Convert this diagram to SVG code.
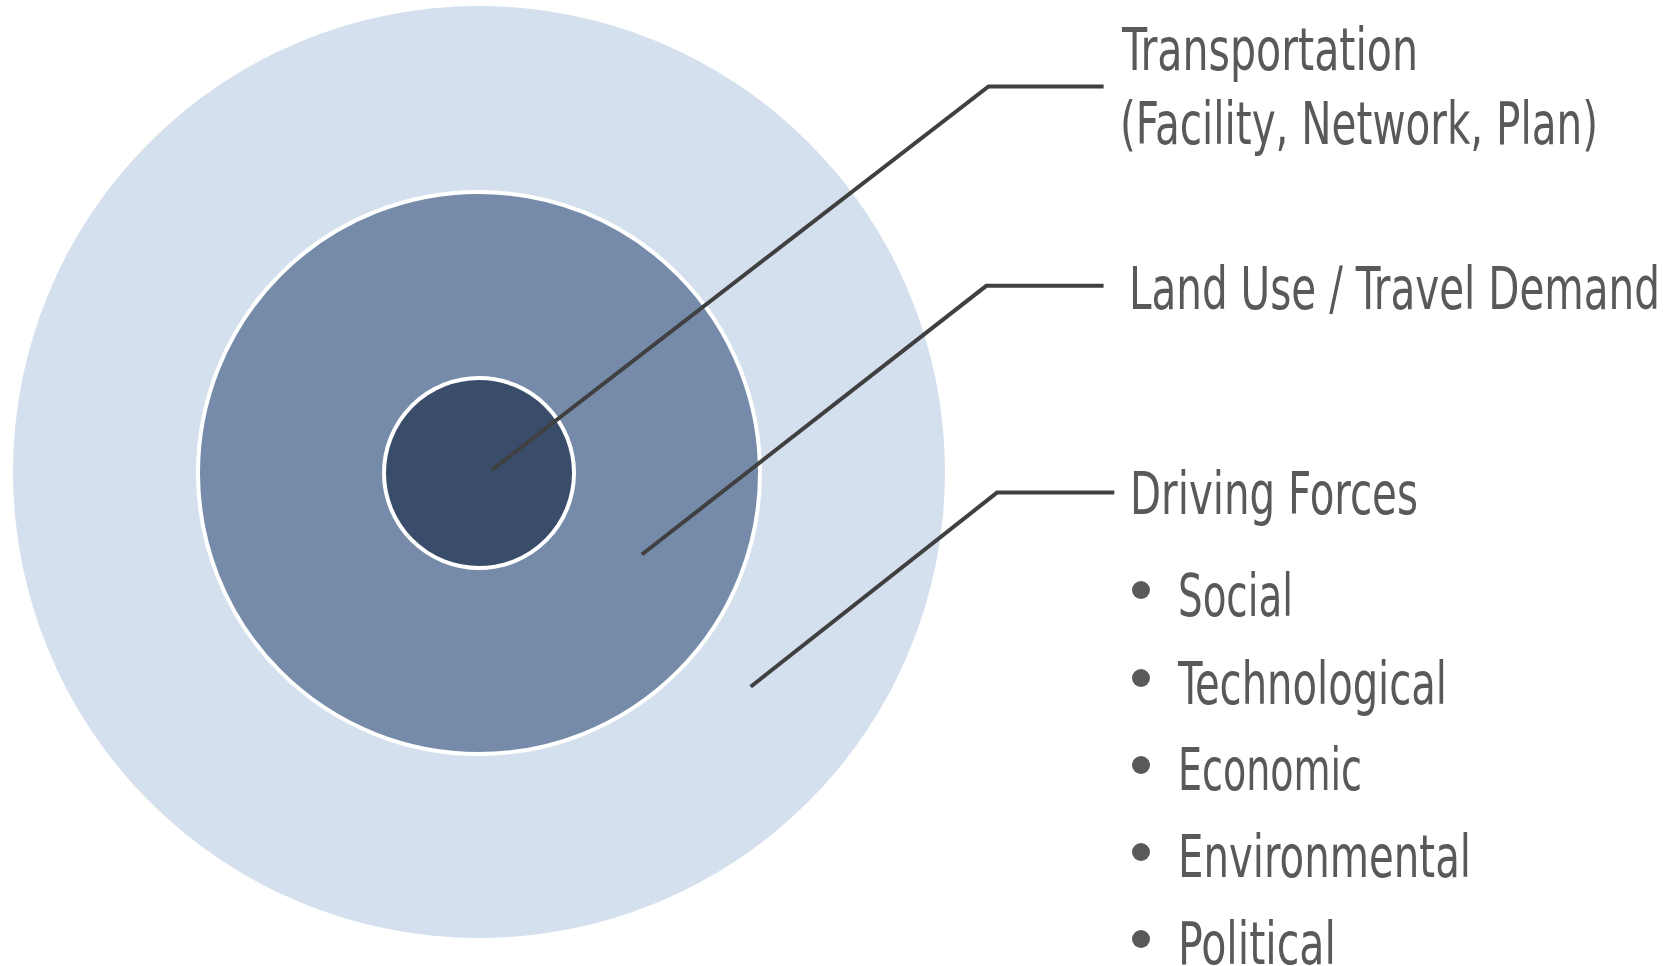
<svg xmlns="http://www.w3.org/2000/svg" width="1672" height="966" viewBox="0 0 1672 966">
<style>
.lbl{font-family:"DejaVu Sans Condensed","Liberation Sans Narrow","Liberation Sans",sans-serif;font-size:58px;fill:#595959}
.con{fill:none;stroke:#404040;stroke-width:4;stroke-linejoin:miter}
.dot{fill:#595959}
</style>
<rect width="1672" height="966" fill="#ffffff"/>
<g id="ring-outer"><circle cx="479" cy="472" r="466" fill="#d5e0ee"/></g>
<g id="ring-middle"><circle cx="479" cy="473" r="281" fill="#768ba9" stroke="#ffffff" stroke-width="4"/></g>
<g id="ring-inner"><circle cx="479" cy="473" r="95" fill="#394d6b" stroke="#ffffff" stroke-width="4"/></g>
<g id="connectors">
<polyline class="con" points="491.6,470.2 988.5,86.4 1103.6,86.4"/>
<polyline class="con" points="641.9,554.5 986.3,285.8 1103.6,285.8"/>
<polyline class="con" points="750.7,686.7 997,492.6 1114.3,492.6"/>
</g>
<g id="label-transportation">
<text class="lbl" transform="translate(1122,70) scale(0.7,1)" textLength="422.9" lengthAdjust="spacingAndGlyphs">Transportation</text>
<text class="lbl" transform="translate(1120,144) scale(0.7,1)" textLength="682.9" lengthAdjust="spacingAndGlyphs">(Facility, Network, Plan)</text>
</g>
<g id="label-landuse">
<text class="lbl" transform="translate(1129,309) scale(0.7,1)" textLength="758.6" lengthAdjust="spacingAndGlyphs">Land Use / Travel Demand</text>
</g>
<g id="label-driving">
<text class="lbl" transform="translate(1130,514) scale(0.7,1)" textLength="411.4" lengthAdjust="spacingAndGlyphs">Driving Forces</text>
<circle class="dot" cx="1141" cy="590" r="9"/>
<text class="lbl" transform="translate(1178,616) scale(0.7,1)" textLength="164.3" lengthAdjust="spacingAndGlyphs">Social</text>
<circle class="dot" cx="1141" cy="678" r="9"/>
<text class="lbl" transform="translate(1178,704) scale(0.7,1)" textLength="384.3" lengthAdjust="spacingAndGlyphs">Technological</text>
<circle class="dot" cx="1141" cy="765" r="9"/>
<text class="lbl" transform="translate(1178,790) scale(0.7,1)" textLength="262.9" lengthAdjust="spacingAndGlyphs">Economic</text>
<circle class="dot" cx="1141" cy="852" r="9"/>
<text class="lbl" transform="translate(1178,877) scale(0.7,1)" textLength="418.6" lengthAdjust="spacingAndGlyphs">Environmental</text>
<circle class="dot" cx="1141" cy="939" r="9"/>
<text class="lbl" transform="translate(1178,964) scale(0.7,1)" textLength="225.7" lengthAdjust="spacingAndGlyphs">Political</text>
</g>
</svg>
